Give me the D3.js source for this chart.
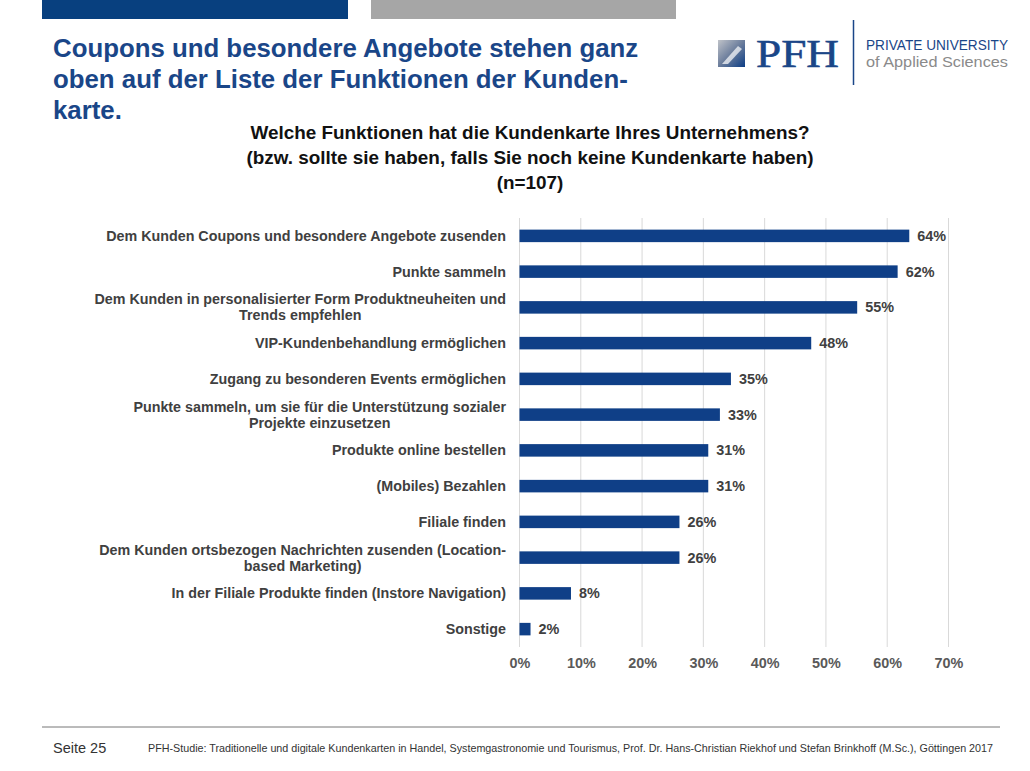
<!DOCTYPE html>
<html><head><meta charset="utf-8">
<script src="https://cdn.jsdelivr.net/npm/d3@7"></script>
<style>body{margin:0;background:#fff}svg{display:block}</style>
</head><body>
<svg id="c" width="1030" height="771"></svg>
<script>
const categories = [
  "Dem Kunden Coupons und besondere Angebote zusenden",
  "Punkte sammeln",
  "Dem Kunden in personalisierter Form Produktneuheiten und\nTrends empfehlen",
  "VIP-Kundenbehandlung ermöglichen",
  "Zugang zu besonderen Events ermöglichen",
  "Punkte sammeln, um sie für die Unterstützung sozialer\nProjekte einzusetzen",
  "Produkte online bestellen",
  "(Mobiles) Bezahlen",
  "Filiale finden",
  "Dem Kunden ortsbezogen Nachrichten zusenden (Location-\nbased Marketing)",
  "In der Filiale Produkte finden (Instore Navigation)",
  "Sonstige"
];
const values = [63.6, 61.7, 55.1, 47.6, 34.5, 32.7, 30.8, 30.8, 26.1, 26.1, 8.4, 1.8];
const valueLabels = ["64%","62%","55%","48%","35%","33%","31%","31%","26%","26%","8%","2%"];
const ticks = [0,10,20,30,40,50,60,70];
const titleLines = ["Coupons und besondere Angebote stehen ganz","oben auf der Liste der Funktionen der Kunden-","karte."];
const questionLines = ["Welche Funktionen hat die Kundenkarte Ihres Unternehmens?","(bzw. sollte sie haben, falls Sie noch keine Kundenkarte haben)","(n=107)"];
const footerPage = "Seite 25";
const footerText = "PFH-Studie: Traditionelle und digitale Kundenkarten in Handel, Systemgastronomie und Tourismus, Prof. Dr. Hans-Christian Riekhof und Stefan Brinkhoff (M.Sc.), Göttingen 2017";

const svg = d3.select("#c");
const F = "'Liberation Sans', Arial, sans-serif";
const BLUE = "#0f3f87";
const LFS = 14.3;

// header bars
svg.append("rect").attr("x",42).attr("y",0).attr("width",306).attr("height",19).attr("fill","#08407f");
svg.append("rect").attr("x",371).attr("y",0).attr("width",305).attr("height",19).attr("fill","#a6a6a6");

// title
svg.append("g").selectAll("text").data(titleLines).join("text")
  .attr("x",53).attr("y",(d,i)=>57+i*31)
  .attr("font-family",F).attr("font-weight","bold").attr("font-size",25.8)
  .attr("fill","#1a4688").text(d=>d);

// logo
const lg = svg.append("g");
const grad = svg.append("defs").append("linearGradient").attr("id","lgGrad")
  .attr("x1","0").attr("y1","0").attr("x2","1").attr("y2","1");
grad.append("stop").attr("offset","0").attr("stop-color","#c0c3c9");
grad.append("stop").attr("offset","0.5").attr("stop-color","#6b7d9c");
grad.append("stop").attr("offset","1").attr("stop-color","#0c3d85");
lg.append("rect").attr("x",718).attr("y",40).attr("width",27).attr("height",27).attr("fill","url(#lgGrad)");
lg.append("path").attr("d","M722,64 L738,46 L742,49 L728,64 Z").attr("fill","#ffffff").attr("opacity",0.7);
lg.append("text").attr("x",756).attr("y",67).attr("font-family","'Liberation Serif', 'DejaVu Serif', serif")
  .attr("font-size",40).attr("fill","#1a4688").attr("stroke","#1a4688").attr("stroke-width",0.6)
  .attr("textLength",83).attr("lengthAdjust","spacingAndGlyphs").text("PFH");
lg.append("line").attr("x1",853.5).attr("x2",853.5).attr("y1",20).attr("y2",85).attr("stroke","#1a4688").attr("stroke-width",1.5);
lg.append("text").attr("x",866).attr("y",50).attr("font-family",F).attr("font-size",15.5)
  .attr("fill","#1a4688").attr("textLength",142).attr("lengthAdjust","spacingAndGlyphs").text("PRIVATE UNIVERSITY");
lg.append("text").attr("x",866).attr("y",67).attr("font-family",F).attr("font-size",15.5)
  .attr("fill","#8a8a8a").attr("textLength",142).attr("lengthAdjust","spacingAndGlyphs").text("of Applied Sciences");

// question title
svg.append("g").selectAll("text").data(questionLines).join("text")
  .attr("x",530).attr("y",(d,i)=>139+i*25).attr("text-anchor","middle")
  .attr("font-family",F).attr("font-weight","bold").attr("font-size",18.9)
  .attr("fill","#111").text(d=>d);

// chart
const x = d3.scaleLinear().domain([0,70]).range([519.5,948.5]);
const y = d3.scaleBand().domain(categories).range([218,647]).paddingInner(0.65).paddingOuter(0.325);

svg.append("g").selectAll("line").data(ticks).join("line")
  .attr("x1",d=>x(d)).attr("x2",d=>x(d)).attr("y1",218).attr("y2",647)
  .attr("stroke","#d9d9d9").attr("stroke-width",1);

const xAxis = svg.append("g").attr("transform","translate(0,647)")
  .call(d3.axisBottom(x).tickValues(ticks).tickFormat(d=>d+"%").tickSize(0).tickPadding(11));
xAxis.select(".domain").remove();
xAxis.selectAll("text").attr("font-family",F).attr("font-weight","bold").attr("font-size",14.4).attr("fill","#595959");

svg.append("g").selectAll("rect").data(values).join("rect")
  .attr("x",x(0)).attr("y",(d,i)=>y(categories[i]))
  .attr("width",d=>x(d)-x(0)).attr("height",y.bandwidth()).attr("fill",BLUE);

svg.append("g").selectAll("text").data(values).join("text")
  .attr("x",d=>x(d)+8).attr("y",(d,i)=>y(categories[i])+y.bandwidth()/2+5)
  .attr("font-family",F).attr("font-weight","bold").attr("font-size",14.4).attr("fill","#404040")
  .text((d,i)=>valueLabels[i]);

// category labels
const labG = svg.append("g");
categories.forEach((c,i)=>{
  const lines = c.split("\n");
  const cy = y(c)+y.bandwidth()/2;
  if(lines.length===1){
    labG.append("text").attr("x",506).attr("y",cy+5).attr("text-anchor","end")
      .attr("font-family",F).attr("font-weight","bold").attr("font-size",LFS).attr("fill","#404040").text(c);
  } else {
    const t1 = labG.append("text").attr("x",506).attr("y",cy-3).attr("text-anchor","end")
      .attr("font-family",F).attr("font-weight","bold").attr("font-size",LFS).attr("fill","#404040").text(lines[0]);
    const w = t1.node().getComputedTextLength();
    labG.append("text").attr("x",506-w/2).attr("y",cy+13).attr("text-anchor","middle")
      .attr("font-family",F).attr("font-weight","bold").attr("font-size",LFS).attr("fill","#404040").text(lines[1]);
  }
});

// footer
svg.append("line").attr("x1",42).attr("x2",1000).attr("y1",727).attr("y2",727).attr("stroke","#777").attr("stroke-width",1);
svg.append("text").attr("x",53).attr("y",753).attr("font-family",F).attr("font-size",14.5).attr("fill","#333").text(footerPage);
svg.append("text").attr("x",148).attr("y",752).attr("font-family",F).attr("font-size",10.2).attr("fill","#333")
  .attr("textLength",845).attr("lengthAdjust","spacingAndGlyphs").text(footerText);
</script>
</body></html>
